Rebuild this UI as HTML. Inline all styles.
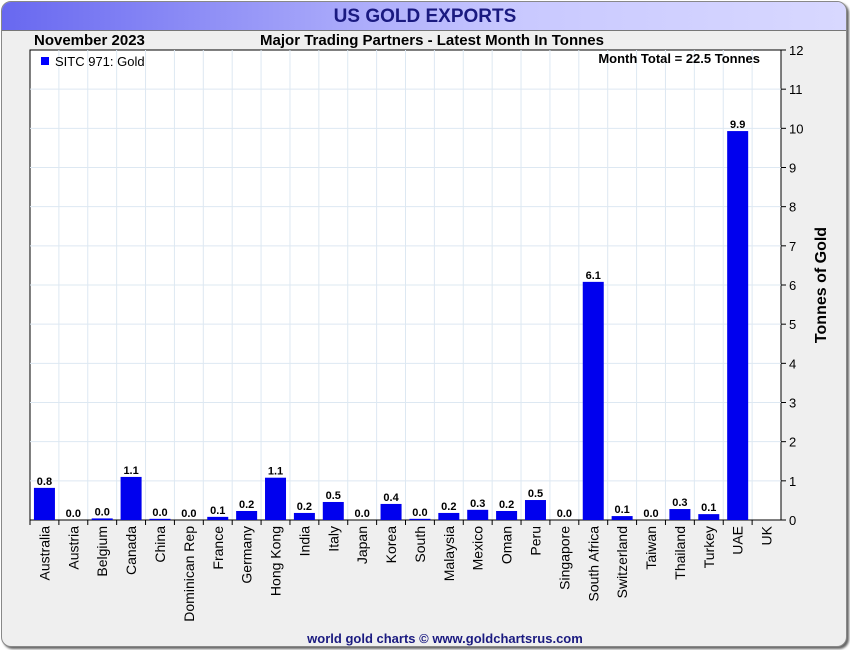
<!DOCTYPE html>
<html><head><meta charset="utf-8"><style>
body{margin:0;width:850px;height:650px;background:#fff;font-family:"Liberation Sans",sans-serif;overflow:hidden}
#frame{position:absolute;left:1px;top:1px;width:844px;height:644px;border:1px solid #888;border-radius:10px;background:#efefef;box-shadow:2px 2px 2px #666;overflow:hidden}
#titlebar{position:absolute;left:0;top:0;width:844px;height:28px;background:linear-gradient(90deg,#6868f0,#c8c8ff 60%,#d8d8ff);border-bottom:1px solid #777}
svg{position:absolute;left:0;top:0}
</style></head><body>
<div id="frame"><div id="titlebar"></div></div>
<svg id="chart" width="850" height="650">
<text x="425" y="22" text-anchor="middle" font-size="19" font-weight="bold" fill="#1a1a80">US GOLD EXPORTS</text>
<text x="34" y="45" font-size="15" font-weight="bold" fill="#000">November 2023</text>
<text x="432" y="45" text-anchor="middle" font-size="15" font-weight="bold" fill="#000">Major Trading Partners - Latest Month In Tonnes</text>
<rect x="30" y="50" width="751" height="470" fill="#fff" stroke="#000"/>
<g id="grid"></g><g id="bars"></g>
<rect x="41" y="57" width="8" height="8" fill="#0000ff"/>
<text x="55" y="66" font-size="13" fill="#000">SITC 971: Gold</text>
<text x="760" y="63" text-anchor="end" font-size="13" font-weight="bold" fill="#000">Month Total = 22.5 Tonnes</text>
<text transform="translate(826,285) rotate(-90)" text-anchor="middle" font-size="16" font-weight="bold">Tonnes of Gold</text>
<text x="445" y="643" text-anchor="middle" font-size="13" font-weight="bold" fill="#1a1a80">world gold charts © www.goldchartsrus.com</text>
</svg>
<script>
const categories=["Australia","Austria","Belgium","Canada","China","Dominican Rep","France","Germany","Hong Kong","India","Italy","Japan","Korea","South","Malaysia","Mexico","Oman","Peru","Singapore","South Africa","Switzerland","Taiwan","Thailand","Turkey","UAE","UK"];
const values=[0.82,0.0,0.04,1.1,0.03,0.0,0.08,0.23,1.08,0.18,0.46,0.0,0.41,0.03,0.18,0.26,0.23,0.51,0.0,6.08,0.1,0.0,0.28,0.15,9.93,null];
const yTicks=[0,1,2,3,4,5,6,7,8,9,10,11,12];
const NS="http://www.w3.org/2000/svg";
const X0=30,X1=781,Y0=520,Y1=50,YMAX=12;
const band=(X1-X0)/categories.length;
const xC=i=>X0+band*(i+0.5);
const y=v=>Y0-(v/YMAX)*(Y0-Y1);
const grid=document.getElementById('grid'),bars=document.getElementById('bars');
function mk(t,a,p){const e=document.createElementNS(NS,t);for(const k in a)e.setAttribute(k,a[k]);p.appendChild(e);return e;}
yTicks.forEach(t=>{
  if(t>0&&t<YMAX){const l=mk('line',{x1:X0,x2:X1,y1:y(t),y2:y(t),stroke:'#dde8f2'},grid);
  
  }
  const tk=mk('line',{x1:X1,x2:X1+5,y1:y(t),y2:y(t),stroke:'#000'},grid);
  
  
  const tx=mk('text',{x:X1+8,y:y(t)+5,'font-size':13},grid);tx.textContent=t;
  
  
});
categories.forEach((c,i)=>{
  const gx=X0+band*(i+1);
  if(i<categories.length-1){const g=mk('line',{x1:gx,x2:gx,y1:Y1,y2:Y0,stroke:'#dde8f2'},grid);
  
  }
  const tk=mk('line',{x1:X0+band*i,x2:X0+band*i,y1:Y0,y2:Y0+5,stroke:'#000'},grid);
  
  
  const v=values[i];
  if(v!==null){
    const bw=21,top=y(v);
    const r=mk('rect',{x:xC(i)-bw/2,y:top,width:bw,height:Math.max(Y0-top,0),fill:'#0000ee'},bars);
    
    
    const lb=mk('text',{x:xC(i),y:top-3,'text-anchor':'middle','font-size':11,'font-weight':'bold'},bars);
    lb.textContent=v.toFixed(1);
    
    
  }
  const xl=mk('text',{transform:`translate(${xC(i)+5},526) rotate(-90)`,'text-anchor':'end','font-size':14},grid);
  xl.textContent=c;
  
  
});
mk('line',{x1:X0,x2:X1,y1:Y0,y2:Y0,stroke:'#000'},grid);
</script>
</body></html>
